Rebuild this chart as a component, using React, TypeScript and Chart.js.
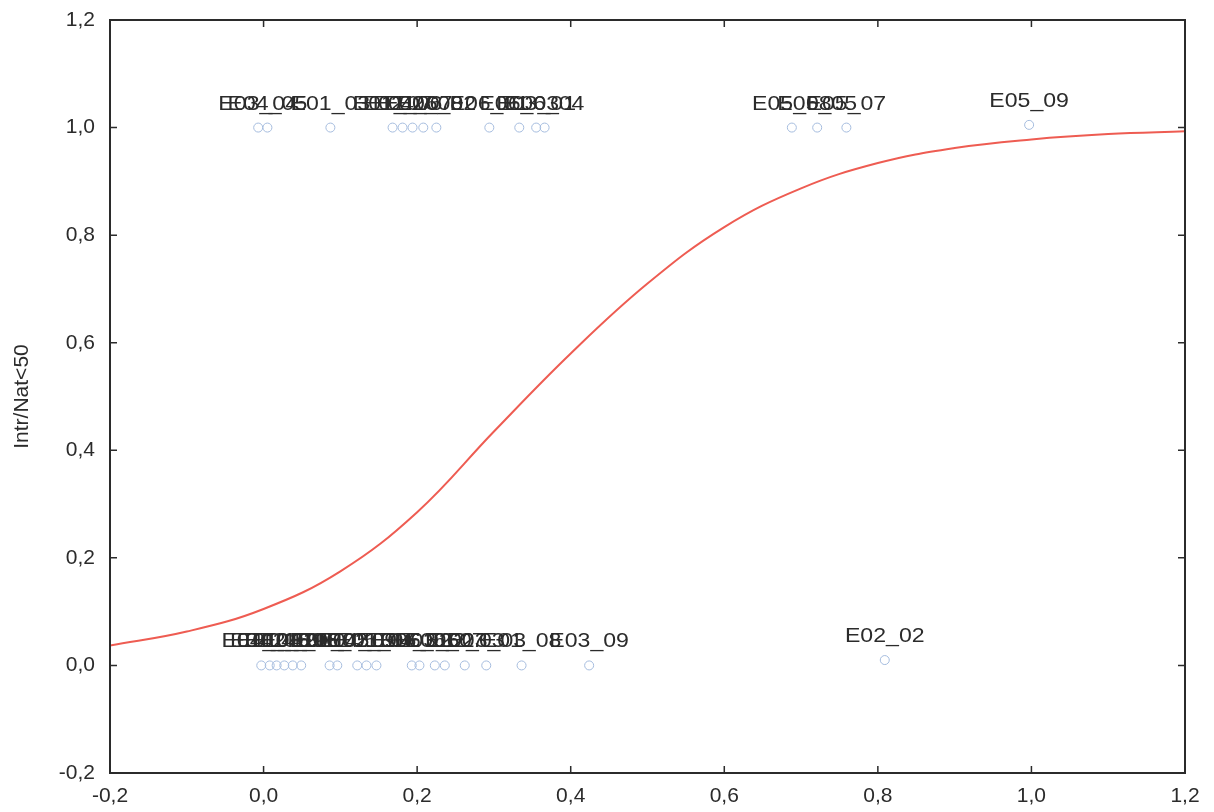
import React, { useEffect, useRef } from "react";
import { Chart, registerables } from "chart.js";

Chart.register(...registerables);

// Fitted curve
const curveX = [-0.2, -0.1, 0.0, 0.1, 0.2, 0.3, 0.4, 0.5, 0.6, 0.7, 0.8, 0.9, 1.0, 1.1, 1.2];
const curveY = [0.037, 0.063, 0.105, 0.175, 0.285, 0.435, 0.58, 0.71, 0.815, 0.887, 0.934, 0.962, 0.978, 0.988, 0.993];

// Observed cases with Intr/Nat<50 = 1
const topX = [-0.007, 0.005, 0.087, 0.168, 0.181, 0.194, 0.208, 0.225, 0.294, 0.333, 0.355, 0.366, 0.688, 0.721, 0.759, 0.997];
const topY = [1, 1, 1, 1, 1, 1, 1, 1, 1, 1, 1, 1, 1, 1, 1, 1.005];
const topNames = ["E03_04", "E04_05", "E01_03", "E01_07", "E02_06", "E04_07", "E02_08", "E06_02", "E06_01", "E06_03", "E03_01", "E06_04", "E05_08", "E05_05", "E05_07", "E05_09"];

// Observed cases with Intr/Nat<50 = 0
const bottomX = [-0.003, 0.008, 0.017, 0.027, 0.038, 0.049, 0.086, 0.096, 0.122, 0.134, 0.147, 0.193, 0.203, 0.223, 0.236, 0.262, 0.29, 0.336, 0.424, 0.809];
const bottomY = [0, 0, 0, 0, 0, 0, 0, 0, 0, 0, 0, 0, 0, 0, 0, 0, 0, 0, 0, 0.01];
const bottomNames = ["E04_04", "E04_06", "E01_02", "E02_09", "E04_08", "E03_08", "E01_05", "E06_05", "E04_09", "E02_01", "E01_06", "E04_02", "E06_06", "E03_02", "E06_07", "E02_03", "E03_03", "E01_08", "E03_09", "E02_02"];

const axisMin = -0.2;
const axisMax = 1.2;
const axisStep = 0.2;
const yTitle = "Intr/Nat<50";

const FONT = '"Liberation Sans", Arial, sans-serif';
const INK = "#2b2b2b";

const pointNames = [...topNames, ...bottomNames];

const fmt = (v: number) => (Math.round(v * 10) / 10).toFixed(1).replace(".", ",").replace("-0,0", "0,0");

const labelPlugin = {
  id: "pointLabels",
  afterDatasetsDraw(chart: any) {
    const ctx = chart.ctx;
    const meta = chart.getDatasetMeta(1);
    ctx.save();
    ctx.font = `21px ${FONT}`;
    ctx.fillStyle = INK;
    ctx.textAlign = "center";
    ctx.textBaseline = "alphabetic";
    meta.data.forEach((el: any, i: number) => {
      ctx.save();
      ctx.translate(el.x, el.y - 18);
      ctx.scale(1.1, 1);
      ctx.fillText(pointNames[i], 0, 0);
      ctx.restore();
    });
    ctx.restore();
  },
};

const framePlugin = {
  id: "frame",
  afterDraw(chart: any) {
    const { ctx, chartArea } = chart;
    const { left, right, top, bottom } = chartArea;
    const xs = chart.scales.x;
    const ys = chart.scales.y;
    const len = 7;
    ctx.save();
    ctx.strokeStyle = INK;
    ctx.lineWidth = 2;
    ctx.strokeRect(left, top, right - left, bottom - top);
    ctx.lineWidth = 1.5;
    ctx.beginPath();
    xs.ticks.forEach((t: any) => {
      const px = xs.getPixelForValue(t.value);
      ctx.moveTo(px, bottom);
      ctx.lineTo(px, bottom - len);
      ctx.moveTo(px, top);
      ctx.lineTo(px, top + len);
    });
    ys.ticks.forEach((t: any) => {
      const py = ys.getPixelForValue(t.value);
      ctx.moveTo(left, py);
      ctx.lineTo(left + len, py);
      ctx.moveTo(right, py);
      ctx.lineTo(right - len, py);
    });
    ctx.stroke();
    ctx.restore();
  },
};

export default function App() {
  const ref = useRef<HTMLCanvasElement | null>(null);

  useEffect(() => {
    if (!ref.current) return;
    const curve = curveX.map((x, i) => ({ x, y: curveY[i] }));
    const pts = [
      ...topX.map((x, i) => ({ x, y: topY[i] })),
      ...bottomX.map((x, i) => ({ x, y: bottomY[i] })),
    ];
    const chart = new Chart(ref.current, {
      type: "scatter",
      data: {
        datasets: [
          {
            data: curve,
            showLine: true,
            borderColor: "rgb(238, 92, 82)",
            borderWidth: 2,
            pointRadius: 0,
            tension: 0.4,
            fill: false,
          } as any,
          {
            data: pts,
            pointRadius: 4.5,
            pointBorderWidth: 1,
            pointBorderColor: "rgb(165, 188, 222)",
            pointBackgroundColor: "rgba(255,255,255,0)",
            showLine: false,
          } as any,
        ],
      },
      options: {
        responsive: false,
        animation: false,
        devicePixelRatio: 1,
        layout: { padding: { left: 0, top: 20, right: 29, bottom: 0 } },
        plugins: { legend: { display: false }, tooltip: { enabled: false } },
        scales: {
          x: {
            type: "linear",
            min: axisMin,
            max: axisMax,
            grid: { display: false, drawTicks: false },
            border: { display: false },
            ticks: {
              stepSize: axisStep,
              padding: 11,
              color: INK,
              font: { family: FONT, size: 21 },
              callback: (v: any) => fmt(Number(v)),
            },
            afterFit: (s: any) => {
              s.height = 39;
              s.paddingLeft = 0;
              s.paddingRight = 0;
            },
          },
          y: {
            type: "linear",
            min: axisMin,
            max: axisMax,
            grid: { display: false, drawTicks: false },
            border: { display: false },
            ticks: {
              stepSize: axisStep,
              padding: 15,
              color: INK,
              font: { family: FONT, size: 21 },
              callback: (v: any) => fmt(Number(v)),
            },
            title: {
              display: true,
              text: yTitle,
              color: INK,
              font: { family: FONT, size: 21 },
              padding: { top: 10, bottom: 0 },
            },
            afterFit: (s: any) => {
              s.width = 110;
              s.paddingTop = 0;
              s.paddingBottom = 0;
            },
          },
        },
      } as any,
      plugins: [labelPlugin, framePlugin],
    });
    return () => chart.destroy();
  }, []);

  return (
    <div style={{ position: "fixed", left: 0, top: 0, width: 1214, height: 812, background: "#ffffff" }}>
      <canvas ref={ref} width={1214} height={812} style={{ display: "block" }} />
    </div>
  );
}
